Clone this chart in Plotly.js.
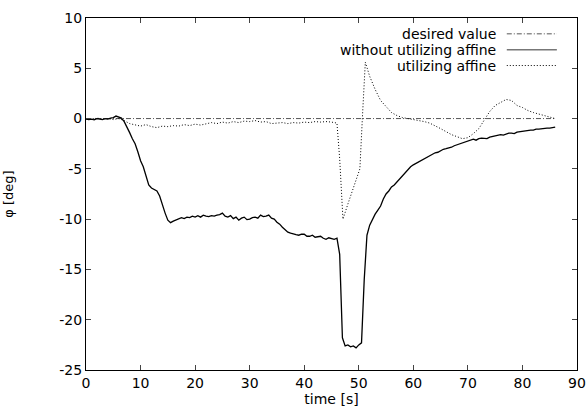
<!DOCTYPE html>
<html>
<head>
<meta charset="utf-8">
<script src="https://cdn.plot.ly/plotly-3.0.1.min.js"></script>
<style>html,body{margin:0;padding:0;background:#fff;}#chart{width:588px;height:414px;}</style>
</head>
<body>
<div id="chart"></div>
<script>
// desired value
var desiredT = [0, 86];
var desiredV = [0, 0];

// without utilizing affine
var withoutT = [0,0.5,1,1.5,2,2.5,3,3.5,4,4.5,5,5.5,6,6.5,7,7.5,8,8.5,9,9.5,10,10.5,11,11.5,12,12.5,13,13.5,14,14.5,15,15.5,16,16.5,17,17.5,18,18.5,19,19.5,20,20.5,21,21.5,22,22.5,23,23.5,24,24.5,25,25.5,26,26.5,27,27.5,28,28.5,29,29.5,30,30.5,31,31.5,32,32.5,33,33.5,34,34.5,35,35.5,36,36.5,37,37.5,38,38.5,39,39.5,40,40.5,41,41.5,42,42.5,43,43.5,44,44.5,45,45.5,46,46.5,47,47.5,48,48.5,49,49.5,50,50.5,51,51.5,52,52.5,53,53.5,54,54.5,55,55.5,56,56.5,57,57.5,58,58.5,59,59.5,60,60.5,61,61.5,62,62.5,63,63.5,64,64.5,65,65.5,66,66.5,67,67.5,68,68.5,69,69.5,70,70.5,71,71.5,72,72.5,73,73.5,74,74.5,75,75.5,76,76.5,77,77.5,78,78.5,79,79.5,80,80.5,81,81.5,82,82.5,83,83.5,84,84.5,85,85.5,86];
var withoutV = [-0.05,-0.1,-0.05,-0.12,0.0,-0.08,-0.1,0.0,-0.05,0.05,0.1,0.25,0.15,0.05,-0.3,-0.8,-1.4,-2.0,-2.5,-3.3,-4.2,-4.8,-5.6,-6.6,-6.9,-7.05,-7.2,-7.7,-8.6,-9.4,-10.1,-10.35,-10.2,-10.1,-10.0,-9.85,-9.95,-9.8,-9.85,-9.7,-9.8,-9.65,-9.8,-9.6,-9.7,-9.75,-9.65,-9.7,-9.6,-9.55,-9.4,-9.7,-9.8,-9.65,-9.95,-9.8,-10.1,-9.9,-9.8,-10.05,-10.0,-9.85,-9.8,-9.9,-9.6,-9.75,-9.7,-9.6,-9.9,-10.0,-10.3,-10.5,-10.8,-11.1,-11.3,-11.4,-11.5,-11.55,-11.6,-11.5,-11.5,-11.7,-11.7,-11.6,-11.8,-11.75,-11.7,-11.9,-12.0,-11.85,-11.9,-12.0,-11.9,-13.5,-21.8,-22.6,-22.5,-22.7,-22.6,-22.8,-22.5,-22.3,-16.0,-11.6,-10.6,-10.0,-9.5,-9.1,-8.7,-8.0,-7.5,-7.2,-6.8,-6.6,-6.3,-5.9,-5.6,-5.3,-5.0,-4.8,-4.6,-4.45,-4.25,-4.1,-4.0,-3.85,-3.7,-3.5,-3.4,-3.35,-3.2,-3.05,-3.0,-2.95,-2.85,-2.7,-2.6,-2.55,-2.4,-2.35,-2.25,-2.1,-2.05,-2.15,-2.0,-1.95,-1.95,-2.0,-1.85,-1.8,-1.75,-1.7,-1.6,-1.65,-1.55,-1.45,-1.45,-1.5,-1.35,-1.3,-1.3,-1.2,-1.2,-1.15,-1.15,-1.05,-1.05,-1.0,-1.0,-0.95,-0.95,-0.9,-0.85];

// utilizing affine
var affineT = [0,1,2,3,4,5,6,7,8,9,10,11,12,13,14,15,16,17,18,19,20,21,22,23,24,25,26,27,28,29,30,31,32,33,34,35,36,37,38,39,40,41,42,43,44,45,46,46.5,47.1,48,49,50.2,50.7,51.2,52,53,54,55,56,57,58,59,60,61,62,63,64,65,66,67,68,69,70,71,72,73,74,75,76,77,78,79,80,81,82,83,84,85,86];
var affineV = [0.0,-0.1,0.05,-0.05,0.0,-0.1,0.0,-0.2,-0.5,-0.6,-0.75,-0.6,-0.8,-0.9,-0.75,-0.8,-0.7,-0.75,-0.6,-0.7,-0.55,-0.65,-0.5,-0.4,-0.5,-0.35,-0.45,-0.3,-0.4,-0.25,-0.3,-0.2,-0.35,-0.3,-0.5,-0.45,-0.4,-0.5,-0.4,-0.45,-0.35,-0.4,-0.3,-0.35,-0.3,-0.35,-0.45,-4.0,-10.0,-8.5,-6.8,-5.0,0.5,5.6,4.2,2.9,1.8,1.2,0.6,0.3,0.1,0.0,-0.1,-0.15,-0.3,-0.45,-0.7,-1.0,-1.3,-1.6,-1.8,-2.0,-1.9,-1.5,-1.0,-0.2,0.7,1.3,1.6,1.9,1.8,1.3,1.1,0.8,0.6,0.45,0.3,0.1,0.0];

var xTicks = [0,10,20,30,40,50,60,70,80,90];
var yTicks = [-25,-20,-15,-10,-5,0,5,10];

var legendNames = ['desired value','without utilizing affine','utilizing affine'];

var font = 'DejaVu Sans, Verdana, sans-serif';
var dashDot = '5px,2px,1px,2px';
var dotted = '1px,2px';

var traces = [
  {x: desiredT, y: desiredV, mode:'lines', name: legendNames[0], line:{color:'#555555', width:1, dash:dashDot}},
  {x: withoutT, y: withoutV, mode:'lines', name: legendNames[1], line:{color:'#000000', width:1.3}},
  {x: affineT, y: affineV, mode:'lines', name: legendNames[2], line:{color:'#000000', width:1, dash:dotted}}
];

var legY = [0.955, 0.910, 0.865];
var legDash = [dashDot,'solid',dotted];
var legColor = ['#555555','#777777','#000000'];
var legWidth = [1, 1.5, 1];
var annotations = [], shapes = [];
for (var i = 0; i < 3; i++) {
  annotations.push({xref:'paper', yref:'paper', x:0.839, y:legY[i], xanchor:'right', yanchor:'middle',
    text: legendNames[i], showarrow:false, font:{family:font, size:14, color:'#000'}});
  shapes.push({type:'line', xref:'paper', yref:'paper', x0:0.857, x1:0.959, y0:legY[i], y1:legY[i],
    line:{color:legColor[i], width:legWidth[i], dash:legDash[i]}});
}

var layout = {
  width:588, height:414,
  margin:{l:86, r:11, t:17.5, b:44},
  paper_bgcolor:'#fff', plot_bgcolor:'#fff',
  showlegend:false,
  font:{family:font, size:14, color:'#000'},
  xaxis:{range:[0,90], tickvals:xTicks, ticktext:xTicks.map(String), ticks:'inside', ticklen:5,
    showline:true, mirror:'allticks', linecolor:'#000', linewidth:1, showgrid:false, zeroline:false,
    tickfont:{family:font, size:14}, title:{text:'time [s]', font:{family:font, size:14}, standoff:1}},
  yaxis:{range:[-25,10], tickvals:yTicks, ticktext:yTicks.map(String), ticks:'inside', ticklen:5,
    showline:true, mirror:'allticks', linecolor:'#000', linewidth:1, showgrid:false, zeroline:false,
    tickfont:{family:font, size:14}, title:{text:'φ [deg]', font:{family:font, size:13}, standoff:42}},
  annotations:annotations,
  shapes:shapes
};

Plotly.newPlot('chart', traces, layout, {displayModeBar:false, staticPlot:true});
</script>
</body>
</html>
